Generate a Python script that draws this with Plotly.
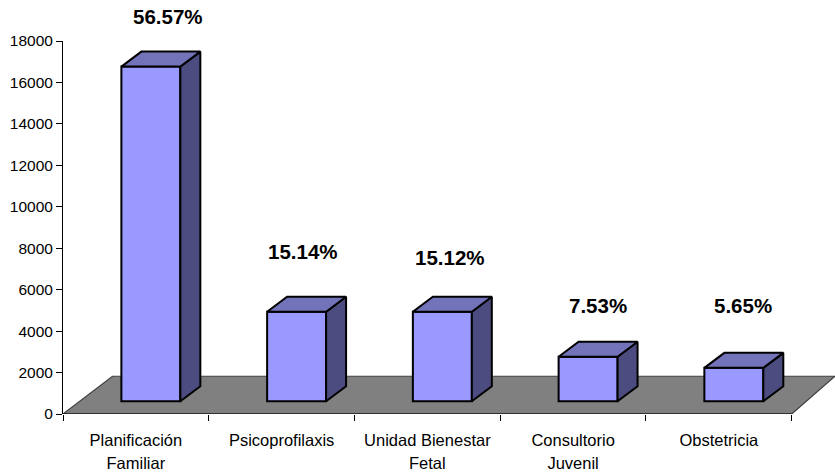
import plotly.graph_objects as go

categories = ["Planificación<br>Familiar", "Psicoprofilaxis", "Unidad Bienestar<br>Fetal", "Consultorio<br>Juvenil", "Obstetricia"]
values = [16150, 4322, 4317, 2150, 1613]
percent_labels = ["56.57%", "15.14%", "15.12%", "7.53%", "5.65%"]
y_ticks = [0, 2000, 4000, 6000, 8000, 10000, 12000, 14000, 16000, 18000]

# --- layout geometry (pixels of the page) ---
W, H = 835, 474
X0, Y0, Y_TOP = 62.5, 413.7, 41.3
CAT_W = 145.84
X_MAX = (W - X0) / CAT_W
UNITS_PER_PX = 18000 / (Y0 - Y_TOP)

def px_w(p):
    return p / CAT_W

def px_h(p):
    return p * UNITS_PER_PX

BAR_W = px_w(59)
BAR_SHIFT = px_w(15)
DEPTH_X, DEPTH_Y = px_w(20), px_h(15)
BASE = px_h(12.7)
FLOOR_DX, FLOOR_DY = px_w(49.5), px_h(37.7)

LABEL_CX = [168, 303, 450, 598, 743]
LABEL_CY = [17, 251, 257, 305, 305]

FRONT, TOP, SIDE = "#9999FF", "#7373BA", "#4C4C80"
EDGE = dict(color="black", width=2)

centers = [i + 0.5 + BAR_SHIFT for i in range(len(values))]

fig = go.Figure()
fig.add_trace(go.Bar(
    x=centers, y=values, base=BASE, width=BAR_W,
    marker=dict(color=FRONT, line=EDGE), hoverinfo="skip", showlegend=False,
))

for c, v in zip(centers, values):
    l, r = c - BAR_W / 2, c + BAR_W / 2
    top = BASE + v
    fig.add_trace(go.Scatter(
        x=[r, r + DEPTH_X, r + DEPTH_X, r, r],
        y=[BASE, BASE + DEPTH_Y, top + DEPTH_Y, top, BASE],
        mode="lines", fill="toself", fillcolor=SIDE, line=EDGE,
        hoverinfo="skip", showlegend=False,
    ))
    fig.add_trace(go.Scatter(
        x=[l, l + DEPTH_X, r + DEPTH_X, r, l],
        y=[top, top + DEPTH_Y, top + DEPTH_Y, top, top],
        mode="lines", fill="toself", fillcolor=TOP, line=EDGE,
        hoverinfo="skip", showlegend=False,
    ))

n = len(values)
floor_path = (f"M 0 0 L {FLOOR_DX} {FLOOR_DY} L {X_MAX} {FLOOR_DY} L {n} 0 Z")
shapes = [
    dict(type="path", path=floor_path, xref="x", yref="y", layer="below",
         fillcolor="#808080", line=dict(color="#404040", width=1.2)),
    dict(type="line", x0=0, x1=n, y0=0, y1=0, xref="x", yref="y", layer="below",
         line=dict(color="black", width=1.2)),
]

annotations = [
    dict(x=px_w(cx - X0) / X_MAX, y=(Y0 - cy) / (Y0 - Y_TOP), xref="paper", yref="paper",
         text=f"<b>{t}</b>", showarrow=False, xanchor="center", yanchor="middle",
         font=dict(family="Liberation Sans", size=20.5, color="black"))
    for t, cx, cy in zip(percent_labels, LABEL_CX, LABEL_CY)
]

tick_text = [f'<span style="font-size:16.5px">{c.replace("<br>", "</span><br><span style=\"font-size:16.5px\">")}</span>'
             for c in categories]

fig.update_layout(
    width=W, height=H,
    margin=dict(l=X0, r=0, t=Y_TOP, b=H - Y0, pad=0),
    paper_bgcolor="white", plot_bgcolor="white",
    font=dict(family="Liberation Sans", color="black"),
    showlegend=False, barmode="overlay",
    shapes=shapes, annotations=annotations,
    xaxis=dict(
        range=[0, X_MAX], showgrid=False, zeroline=False, showline=False,
        tickmode="array", tickvals=[i + 0.5 for i in range(n)], ticktext=tick_text,
        ticks="", tickfont=dict(size=18), tickangle=0, automargin=False,
        ticklabelstandoff=13,
        minor=dict(tickmode="array", tickvals=list(range(n + 1)), ticks="outside",
                   ticklen=6, tickwidth=1, tickcolor="black", showgrid=False),
    ),
    yaxis=dict(
        range=[0, 18000], showgrid=False, zeroline=False, showline=True,
        linecolor="black", linewidth=1, tickformat="d",
        tickmode="array", tickvals=y_ticks, ticks="outside", ticklen=6,
        tickwidth=1, tickcolor="black", tickfont=dict(size=15.5), automargin=False,
    ),
)

fig.write_html("out.html", post_script="document.body.style.margin='0';",
               config={"displayModeBar": False})
